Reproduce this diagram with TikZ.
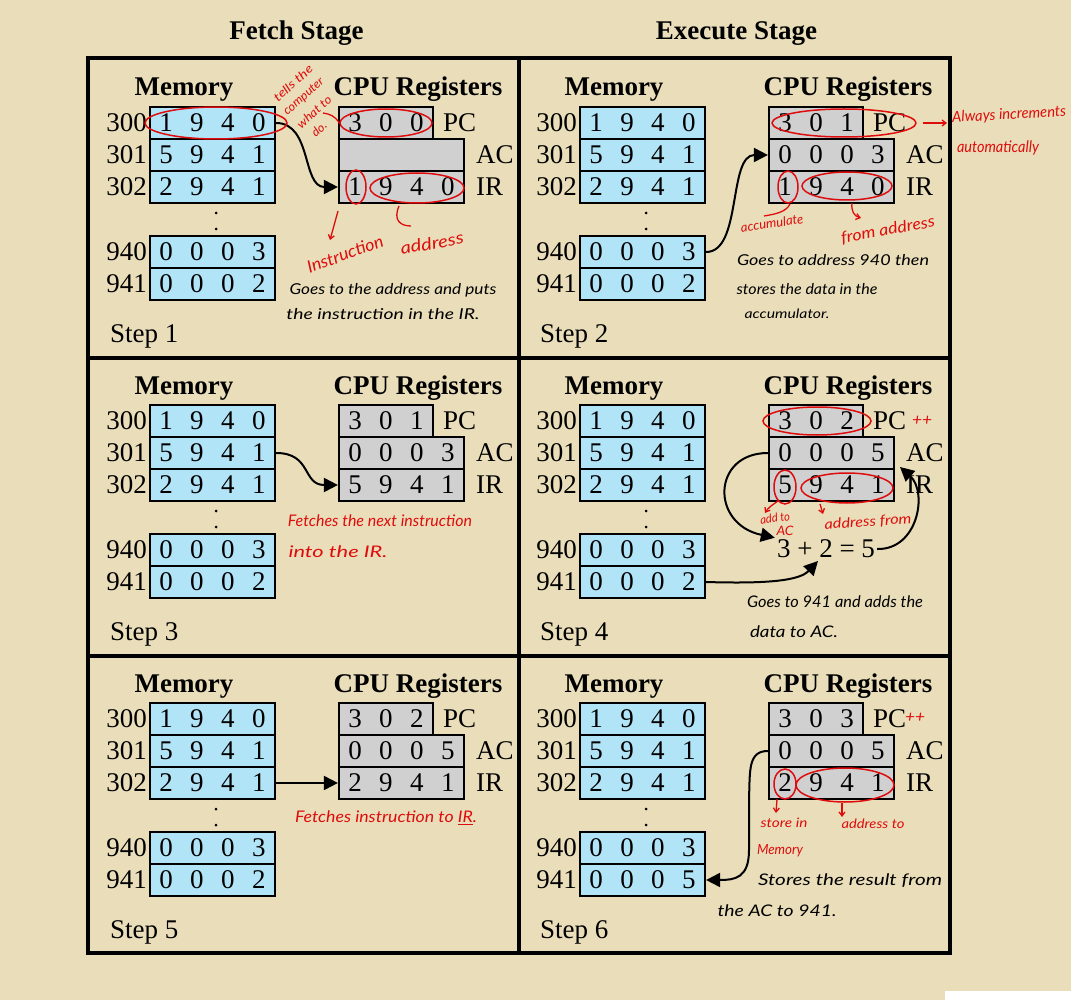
\documentclass[tikz,border=0pt]{standalone}
\usepackage{graphicx}
\usepackage{fontspec}
\setmainfont{Liberation Serif}
\newfontfamily\hand{Lato}
\usetikzlibrary{arrows.meta,shapes.geometric,calc}
\definecolor{parch}{RGB}{234,222,186}
\definecolor{cellblue}{RGB}{178,228,248}
\definecolor{reggray}{RGB}{208,208,208}
\definecolor{hwred}{RGB}{222,12,12}
\newcommand\gp{\hspace{17.5pt}}
\newcommand\hw[2]{\resizebox{#1pt}{\height}{#2}}
\tikzset{
  big/.style={font=\fontsize{27}{30}\selectfont},
  head/.style={inner sep=0pt, anchor=base, font=\fontsize{27}{30}\selectfont\bfseries},
  memcell/.style={draw, line width=2.2pt, fill=cellblue, minimum width=125pt, minimum height=32pt, inner sep=0pt, font=\fontsize{27}{30}\selectfont},
  regbox/.style={memcell, fill=reggray},
  addr/.style={anchor=east, inner sep=0pt, font=\fontsize{27}{30}\selectfont},
  lbl/.style={anchor=west, inner sep=0pt, font=\fontsize{27}{30}\selectfont},
  steplbl/.style={anchor=base west, inner sep=0pt, font=\fontsize{27}{30}\selectfont},
  dotn/.style={circle, fill=black, inner sep=0pt, minimum size=3pt},
  hs/.style={font=\hand\itshape\fontsize{#1}{#1}\selectfont},
  hand/.style={inner sep=0pt, hs=15},
  redhand/.style={inner sep=0pt, hs=14, text=hwred},
  redell/.style={draw=hwred, line width=1.5pt, ellipse, inner sep=0pt},
  arr/.style={line width=2pt, -{Triangle[length=14pt,width=14pt]}},
  redarr/.style={draw=hwred, line width=1.3pt, -{Straight Barb[length=4pt,width=6pt]}},
  redln/.style={draw=hwred, line width=1.3pt},
  frame/.style={line width=3.5pt}
}
% #1 id, #2 dx, #3 dy, #4 PC, #5 AC, #6 IR, #7 cell 941, #8 step
\newcommand\cpupanel[8]{%
\begin{scope}[shift={(#2,#3)}]
  \node[head] (#1memh) at (184,96) {Memory};
  \node[head] (#1cpuh) at (418,96) {CPU Registers};
  \node[memcell] (#1m300) at (212.5,123) {1\gp9\gp4\gp0};
  \node[memcell] (#1m301) at (212.5,155) {5\gp9\gp4\gp1};
  \node[memcell] (#1m302) at (212.5,187) {2\gp9\gp4\gp1};
  \node[memcell] (#1m940) at (212.5,252) {0\gp0\gp0\gp3};
  \node[memcell] (#1m941) at (212.5,284) {#7};
  \node[addr] (#1a300) at (147,123) {300};
  \node[addr] (#1a301) at (147,155) {301};
  \node[addr] (#1a302) at (147,187) {302};
  \node[addr] (#1a940) at (147,252) {940};
  \node[addr] (#1a941) at (147,284) {941};
  \node[dotn] (#1d1) at (216,213) {};
  \node[dotn] (#1d2) at (216,229) {};
  \node[regbox, minimum width=94pt] (#1pc) at (386,123) {#4};
  \node[regbox] (#1ac) at (401.5,155) {#5};
  \node[regbox] (#1ir) at (401.5,187) {#6};
  \node[lbl] (#1pcl) at (443,123) {PC};
  \node[lbl] (#1acl) at (476,155) {AC};
  \node[lbl] (#1irl) at (476,187) {IR};
  \node[steplbl] (#1st) at (110,342) {Step #8};
\end{scope}}

\begin{document}
\begin{tikzpicture}[x=1pt,y=-1pt]
\useasboundingbox (0,0) rectangle (1071,1000);
\fill[parch] (0,0) rectangle (1071,1000);
\fill[white] (945,991) rectangle (1071,1000);

% titles
\node[head] (t1) at (296.5,40) {Fetch Stage};
\node[head] (t2) at (736.5,40) {Execute Stage};

% panels
\cpupanel{p1}{0}{0}{3\gp0\gp0}{}{1\gp9\gp4\gp0}{0\gp0\gp0\gp2}{1}
\cpupanel{p2}{430}{0}{3\gp0\gp1}{0\gp0\gp0\gp3}{1\gp9\gp4\gp0}{0\gp0\gp0\gp2}{2}
\cpupanel{p3}{0}{298}{3\gp0\gp1}{0\gp0\gp0\gp3}{5\gp9\gp4\gp1}{0\gp0\gp0\gp2}{3}
\cpupanel{p4}{430}{298}{3\gp0\gp2}{0\gp0\gp0\gp5}{5\gp9\gp4\gp1}{0\gp0\gp0\gp2}{4}
\cpupanel{p5}{0}{596}{3\gp0\gp2}{0\gp0\gp0\gp5}{2\gp9\gp4\gp1}{0\gp0\gp0\gp2}{5}
\cpupanel{p6}{430}{596}{3\gp0\gp3}{0\gp0\gp0\gp5}{2\gp9\gp4\gp1}{0\gp0\gp0\gp5}{6}

% frame grid
\draw[frame] (88,58) rectangle (950,953);
\draw[frame] (519,58) -- (519,953);
\draw[frame] (88,358) -- (950,358);
\draw[frame] (88,656) -- (950,656);

% black connectors
\draw[arr] (p1m300.east) .. controls (312,123) and (302,187) .. (p1ir.west);
\draw[arr] (p2m940.east) .. controls (742,252) and (728,155) .. (p2ac.west);
\draw[arr] (p3m301.east) .. controls (312,453) and (302,485) .. (p3ir.west);
\draw[arr] (p5m302.east) -- (p5ir.west);
\node[big, inner sep=2pt] (eq) at (826,549) {3 + 2 = 5};
\coordinate (eqin) at (818,561);
\coordinate (p4tip) at (900,467);
\draw[arr] (p4ac.west) .. controls (712,453) and (710,524) .. (eq.north west);
\draw[arr] (p4m941.east) .. controls (772,584) and (800,580) .. (eqin);
\draw[arr] (eq.east) .. controls (918,550) and (928,492) .. (p4tip);
\draw[arr] (p6ac.west) .. controls (748,751) and (750,770) .. (749,800) -- (749,850) .. controls (749,878) and (735,880) .. (p6m941.east);

% ---------- handwritten annotations ----------
% panel 1
\node[redell, minimum width=142pt, minimum height=32pt] (p1e300) at (216,123) {};
\node[redell, minimum width=92pt, minimum height=28pt] (p1epc) at (386,123) {};
\node[redell, minimum width=20pt, minimum height=34pt] (p1e1) at (356,187) {};
\node[redell, minimum width=94pt, minimum height=30pt] (p1e940) at (417,188) {};
\node[redhand, hs=12, rotate=42] (p1tell1) at (293,83) {\hw{48}{tells the}};
\node[redhand, hs=12, rotate=42] (p1tell2) at (304,97) {\hw{50}{computer}};
\node[redhand, hs=12, rotate=42] (p1tell3) at (314,112) {\hw{42}{what to}};
\node[redhand, hs=12, rotate=42] (p1tell4) at (319,129) {\hw{16}{do.}};
\coordinate (p1c1) at (323,113);
\draw[redln] (p1c1) .. controls (330,114) and (335,116) .. (p1epc.west);
\node[redhand, hs=17, rotate=20] (p1ins) at (345,254) {\hw{80}{Instruction}};
\node[redhand, hs=17, rotate=10] (p1adr) at (432,243) {\hw{64}{address}};
\coordinate (p1h1) at (338,211);
\coordinate (p1h2) at (330,240);
\draw[redarr] (p1h1) -- (p1h2);
\coordinate (p1h3) at (399,206);
\coordinate (p1h4) at (411,226);
\draw[redln] (p1h3) .. controls (393,220) and (400,226) .. (p1h4);
\node[hand] (p1b1) at (393,290) {\hw{207}{Goes to the address and puts}};
\node[hand] (p1b2) at (383,314) {\hw{193}{the instruction in the IR.}};

% panel 2
\node[redell, minimum width=144pt, minimum height=28pt] (p2epc) at (844,123) {};
\coordinate (p2c1) at (923,123);
\coordinate (p2c2) at (947,123);
\draw[redarr] (p2c1) -- (p2c2);
\node[redhand, hs=15, anchor=west, rotate=3] (p2alw) at (952,118) {\hw{114}{Always increments}};
\node[redhand, hs=16] (p2auto) at (998,148) {\hw{82}{automatically}};
\node[redell, minimum width=20pt, minimum height=32pt] (p2e1) at (788,187) {};
\node[redell, minimum width=90pt, minimum height=28pt] (p2e940) at (847,186) {};
\coordinate (p2h1) at (790,204);
\coordinate (p2h2) at (764,216);
\draw[redln] (p2h1) .. controls (786,212) and (776,214) .. (p2h2);
\node[redhand, hs=13, rotate=8] (p2acc) at (772,223) {\hw{63}{accumulate}};
\coordinate (p2h3) at (852,203);
\coordinate (p2h4) at (861,218);
\draw[redarr] (p2h3) .. controls (851,211) and (854,216) .. (p2h4);
\node[redhand, hs=16, rotate=10] (p2from) at (888,230) {\hw{95}{from address}};
\node[hand] (p2b1) at (833,260) {\hw{192}{Goes to address 940 then}};
\node[hand] (p2b2) at (807,289) {\hw{141}{stores the data in the}};
\node[hand, hs=13] (p2b3) at (787,314) {\hw{85}{accumulator.}};

% panel 3
\node[redhand, hs=16] (p3r1) at (380,521) {\hw{184}{Fetches the next instruction}};
\node[redhand, hs=16] (p3r2) at (338,552) {\hw{99}{into the IR.}};

% panel 4
\node[redell, minimum width=108pt, minimum height=28pt] (p4epc) at (817,421) {};
\node[redhand, hs=16] (p4pp) at (922,421) {\hw{20}{++}};
\node[redell, minimum width=22pt, minimum height=34pt] (p4e5) at (785,487) {};
\node[redell, minimum width=92pt, minimum height=30pt] (p4e941) at (847,488) {};
\coordinate (p4h1) at (778,501);
\coordinate (p4h2) at (765,513);
\draw[redarr] (p4h1) .. controls (772,505) and (768,508) .. (p4h2);
\node[redhand, hs=12, rotate=8] (p4add) at (775,518) {\hw{30}{add to}};
\node[redhand, hs=13] (p4acn) at (785,531) {\hw{17}{AC}};
\coordinate (p4h3) at (820,504);
\coordinate (p4h4) at (823,514);
\draw[redarr] (p4h3) -- (p4h4);
\node[redhand, hs=14, rotate=4] (p4from) at (868,522) {\hw{87}{address from}};
\node[hand, hs=16] (p4b1) at (835,602) {\hw{176}{Goes to 941 and adds the}};
\node[hand, hs=16] (p4b2) at (794,632) {\hw{88}{data to AC.}};

% panel 5
\node[redhand, hs=16] (p5r) at (386,818) {\hw{182}{Fetches instruction to \underline{IR}.}};

% panel 6
\node[redhand, hs=16] (p6pp) at (915,718) {\hw{20}{++}};
\node[redell, minimum width=22pt, minimum height=30pt] (p6e2) at (785,784) {};
\node[redell, minimum width=98pt, minimum height=34pt] (p6e941) at (845,785) {};
\coordinate (p6h1) at (777,799);
\coordinate (p6h2) at (776,813);
\draw[redarr] (p6h1) -- (p6h2);
\node[redhand, hs=13] (p6s1) at (784,823) {\hw{47}{store in}};
\node[redhand, hs=14] (p6s2) at (780,851) {\hw{46}{Memory}};
\coordinate (p6h3) at (842,803);
\coordinate (p6h4) at (842,817);
\draw[redarr] (p6h3) -- (p6h4);
\node[redhand, hs=13] (p6adr) at (873,824) {\hw{63}{address to}};
\node[hand, hs=16] (p6b1) at (850,881) {\hw{184}{Stores the result from}};
\node[hand, hs=16] (p6b2) at (777,911) {\hw{119}{the AC to 941.}};
\end{tikzpicture}
\end{document}
